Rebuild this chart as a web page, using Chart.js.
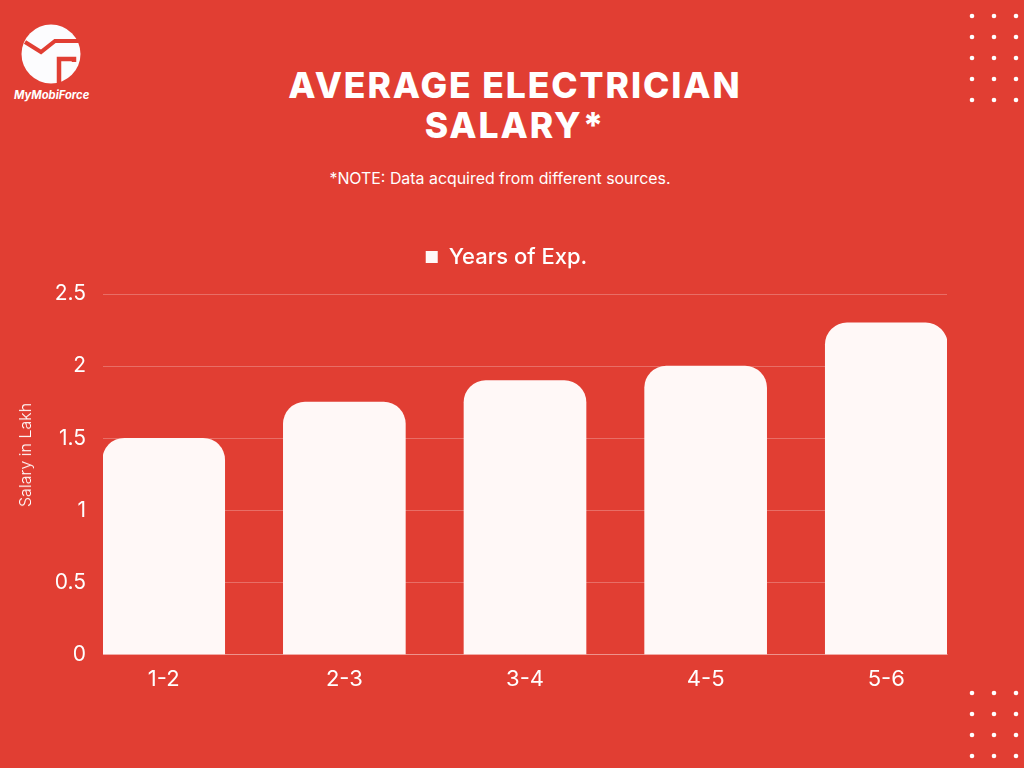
<!DOCTYPE html>
<html lang="en">
<head>
  <meta charset="UTF-8">
  <title>Average Electrician Salary</title>
  <script src="https://cdn.jsdelivr.net/npm/chart.js"></script>
  <style>
    html, body {
      margin: 0;
      width: 1024px;
      height: 768px;
      overflow: hidden;
      background-color: #e13e33;
      font-family: Inter, sans-serif;
      color: #fff;
    }
    #wrap {
      position: absolute;
      left: 0;
      top: 0;
      width: 1013px;
      height: 768px;
    }
    h1 {
      position: absolute;
      left: 215px;
      top: 66px;
      width: 600px;
      margin: 0;
      text-align: center;
      font-size: 35.5px;
      line-height: 40px;
      font-weight: 800;
      letter-spacing: 1.9px;
    }
    #note {
      position: absolute;
      left: 200px;
      top: 170px;
      width: 600px;
      text-align: center;
      font-size: 15.9px;
      line-height: 18px;
      font-weight: 400;
    }
    #ytitle {
      position: absolute;
      left: 25px;
      top: 455px;
      transform: translate(-50%, -50%) rotate(-90deg);
      white-space: nowrap;
      font-size: 16px;
      font-weight: 300;
    }
    #logoName {
      position: absolute;
      left: 14px;
      top: 88px;
      font-size: 11.2px;
      font-weight: 700;
      font-style: italic;
    }
    svg { position: absolute; left: 0; top: 0; }
  </style>
</head>
<body>
  <svg width="1024" height="768" id="deco">
    <circle cx="51" cy="54" r="29.5" fill="#fcfcfe"/>
    <path d="M25 42 L41 52 L55 41 L79 41" fill="none" stroke="#e13e33" stroke-width="4"/>
    <path d="M59 83 L59 59 L74 59 L74 62" fill="none" stroke="#e13e33" stroke-width="4.5"/>
  </svg>
  <div id="logoName">MyMobiForce</div>
  <h1>AVERAGE ELECTRICIAN<br>SALARY*</h1>
  <div id="note">*NOTE: Data acquired from different sources.</div>
  <div id="wrap"><canvas id="graphique" width="1013" height="768"></canvas></div>
  <div id="ytitle">Salary in Lakh</div>

  <script>
    const categories = ["1-2", "2-3", "3-4", "4-5", "5-6"];
    const salaries = [1.5, 1.75, 1.9, 2, 2.3];
    const seriesName = "Years of Exp.";

    // petits points décoratifs dans les coins
    const svg = document.getElementById("deco");
    function dots(ys) {
      [972, 994, 1016].forEach(x => ys.forEach(y => {
        const c = document.createElementNS("http://www.w3.org/2000/svg", "circle");
        c.setAttribute("cx", x);
        c.setAttribute("cy", y);
        c.setAttribute("r", 2.3);
        c.setAttribute("fill", "#fff");
        svg.appendChild(c);
      }));
    }
    dots([16, 37, 58, 79, 100]);
    dots([693, 714, 735, 756]);

    const grid = "rgba(255,255,255,0.25)";

    // la légende est centrée sur la page, et un peu plus haut que le graphique
    const decalerLegende = {
      id: "decalerLegende",
      afterLayout(chart) {
        chart.legend.left += 33;
        chart.legend.right += 33;
        chart.legend.top -= 16;
        chart.legend.bottom -= 16;
      }
    };

    new Chart(document.getElementById("graphique"), {
      type: "bar",
      plugins: [decalerLegende],
      data: {
        datasets: [{
          label: seriesName,
          data: salaries.map((v, i) => ({ x: i, y: v })),
          backgroundColor: "#fff8f7",
          barThickness: 122,
          borderRadius: { topLeft: 22, topRight: 22, bottomLeft: 0, bottomRight: 0 },
          borderSkipped: false
        }]
      },
      options: {
        responsive: false,
        animation: false,
        layout: { padding: { top: 234, right: 66, bottom: 71, left: 0 } },
        plugins: {
          tooltip: { enabled: false },
          legend: {
            position: "top",
            labels: {
              color: "#fff",
              boxWidth: 12,
              boxHeight: 12,
              padding: 28,
              font: { family: "Inter", size: 22, weight: 500 }
            }
          }
        },
        scales: {
          x: {
            type: "linear",
            offset: false,
            // les barres touchent les bords de la zone du graphique
            min: -0.336,
            max: 4.336,
            grid: { display: false },
            border: { color: grid },
            ticks: {
              stepSize: 1,
              includeBounds: false,
              maxRotation: 0,
              color: "#fff",
              padding: 4,
              font: { family: "Inter", size: 22 },
              callback: v => categories[v]
            }
          },
          y: {
            min: 0,
            max: 2.5,
            afterFit: s => { s.width = 103; },
            grid: { color: grid, drawTicks: false },
            border: { display: false },
            ticks: {
              stepSize: 0.5,
              color: "#fff",
              padding: 17,
              font: { family: "Inter", size: 21 },
              callback: v => String(v)
            }
          }
        }
      }
    });
  </script>
</body>
</html>
